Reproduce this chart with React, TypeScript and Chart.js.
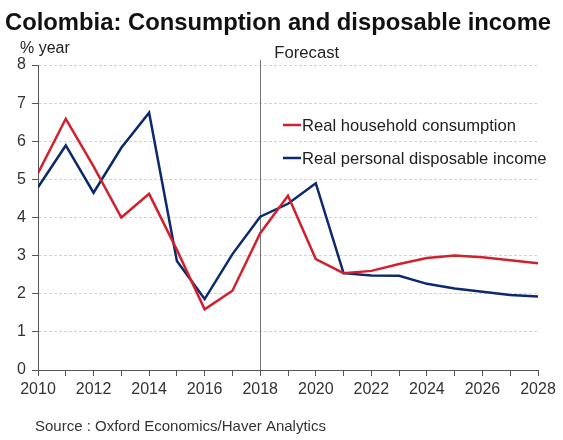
import React, { useEffect, useRef } from "react";
import { Chart, registerables } from "chart.js";

Chart.register(...registerables);

const years = [2010, 2011, 2012, 2013, 2014, 2015, 2016, 2017, 2018, 2019, 2020, 2021, 2022, 2023, 2024, 2025, 2026, 2027, 2028];
const consumption = [5.16, 6.59, 5.34, 4.0, 4.62, 3.15, 1.59, 2.08, 3.59, 4.57, 2.91, 2.54, 2.6, 2.78, 2.94, 3.0, 2.96, 2.88, 2.8];
const income = [4.79, 5.89, 4.65, 5.83, 6.75, 2.86, 1.86, 3.04, 4.02, 4.36, 4.9, 2.54, 2.48, 2.47, 2.26, 2.14, 2.05, 1.97, 1.93];
const seriesNames = ["Real household consumption", "Real personal disposable income"];
const titleText = "Colombia: Consumption and disposable income";
const unitText = "% year";
const forecastText = "Forecast";
const forecastYear = 2018;
const sourceText = "Source : Oxford Economics/Haver Analytics";

const RED = "#d0212e";
const BLUE = "#0c2a6b";
const FONT = "'Liberation Sans', Arial, sans-serif";

export default function App() {
  const ref = useRef<HTMLCanvasElement | null>(null);
  useEffect(() => {
    if (!ref.current) return;
    const decor = {
      id: "decor",
      beforeDatasetsDraw(chart: any) {
        const ctx = chart.ctx;
        const xs = chart.scales.x;
        const ys = chart.scales.y;
        const fx = Math.round(xs.getPixelForValue(forecastYear)) + 0.5;
        ctx.save();
        ctx.strokeStyle = "#777";
        ctx.lineWidth = 1;
        ctx.beginPath();
        ctx.moveTo(fx, ys.top - 5);
        ctx.lineTo(fx, ys.bottom);
        ctx.stroke();
        ctx.restore();
      },
      afterDraw(chart: any) {
        const ctx = chart.ctx;
        const xs = chart.scales.x;
        ctx.save();
        ctx.fillStyle = "#111";
        ctx.font = `bold 23.8px ${FONT}`;
        ctx.textBaseline = "alphabetic";
        ctx.textAlign = "left";
        ctx.fillText(titleText, 5, 30);
        ctx.fillStyle = "#222";
        ctx.font = `16px ${FONT}`;
        ctx.fillText(unitText, 20, 53);
        const fx = xs.getPixelForValue(forecastYear);
        ctx.font = `16.7px ${FONT}`;
        ctx.fillText(forecastText, fx + 14, 58);
        // legend
        const items = [
          { name: seriesNames[0], color: RED, y: 125 },
          { name: seriesNames[1], color: BLUE, y: 158 },
        ];
        ctx.font = `16.6px ${FONT}`;
        ctx.textBaseline = "middle";
        for (const it of items) {
          ctx.strokeStyle = it.color;
          ctx.lineWidth = 2.5;
          ctx.beginPath();
          ctx.moveTo(283, it.y);
          ctx.lineTo(301, it.y);
          ctx.stroke();
          ctx.fillStyle = "#222";
          ctx.fillText(it.name, 302, it.y + 1);
        }
        ctx.font = `15px ${FONT}`;
        ctx.fillStyle = "#333";
        ctx.textBaseline = "middle";
        ctx.fillText(sourceText, 35, 427);
        ctx.restore();
      },
    };
    const chart = new Chart(ref.current, {
      type: "line",
      data: {
        datasets: [
          {
            label: seriesNames[0],
            data: years.map((y, i) => ({ x: y, y: consumption[i] })),
            borderColor: RED,
            borderWidth: 2.5,
            pointRadius: 0,
            tension: 0,
          },
          {
            label: seriesNames[1],
            data: years.map((y, i) => ({ x: y, y: income[i] })),
            borderColor: BLUE,
            borderWidth: 2.5,
            pointRadius: 0,
            tension: 0,
          },
        ],
      },
      options: {
        responsive: false,
        animation: false,
        layout: { padding: { top: 65, right: 25, left: 0, bottom: 0 } },
        plugins: { legend: { display: false }, title: { display: false }, tooltip: { enabled: false } },
        scales: {
          x: {
            type: "linear",
            min: 2010,
            max: 2028,
            afterFit: (s: any) => { s.height = 70; },
            grid: {
              drawOnChartArea: false,
              drawTicks: true,
              tickLength: 6,
              tickColor: "#555",
            },
            border: { color: "#555", width: 1 },
            ticks: {
              stepSize: 1,
              autoSkip: false,
              maxRotation: 0,
              padding: 4,
              color: "#333",
              font: { family: FONT, size: 16 },
              callback: (v: any) => (Number(v) % 2 === 0 ? String(v) : ""),
            },
          },
          y: {
            min: 0,
            max: 8,
            afterFit: (s: any) => { s.width = 38; },
            grid: {
              color: (c: any) => (c.tick && c.tick.value === 0 ? "rgba(0,0,0,0)" : "#d3d3d3"),
              tickBorderDash: [],
              tickColor: "#555",
              tickLength: 6,
              lineWidth: 1,
            },
            border: { color: "#555", width: 1, dash: [3, 2] },
            ticks: {
              stepSize: 1,
              padding: 6,
              color: "#333",
              font: { family: FONT, size: 16 },
            },
          },
        },
      },
      plugins: [decor],
    } as any);
    return () => chart.destroy();
  }, []);
  return (
    <div style={{ position: "absolute", left: 0, top: 0, width: 563, height: 440, background: "#fff" }}>
      <canvas ref={ref} width={563} height={440} style={{ width: 563, height: 440 }} />
    </div>
  );
}
